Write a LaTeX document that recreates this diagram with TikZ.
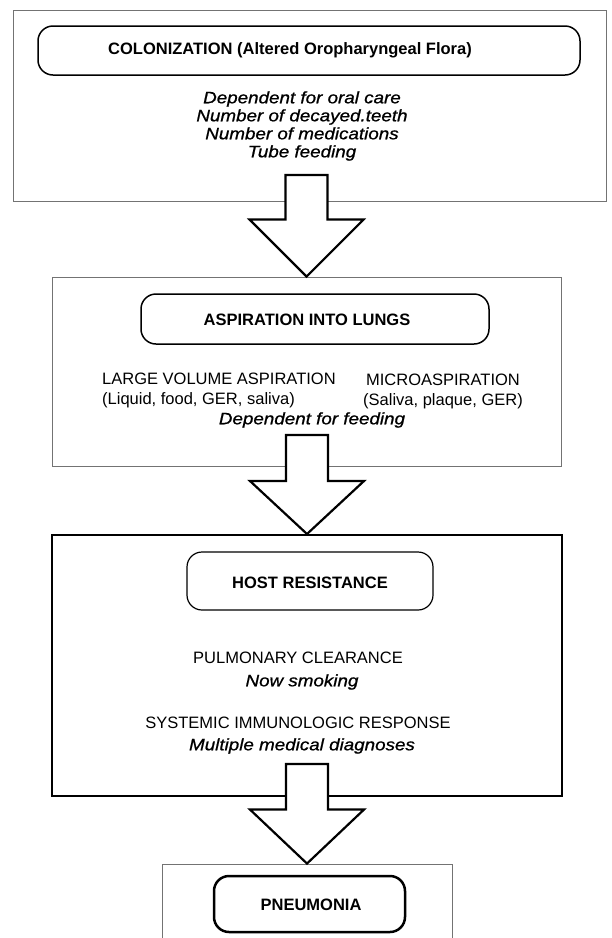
\documentclass[tikz,border=0pt]{standalone}
\usepackage{fontspec}
\setmainfont{Liberation Sans}
\newfontfamily\wideit[FakeStretch=1.14, FakeBold=0.9]{Liberation Sans}
\usetikzlibrary{calc}

\tikzset{
    frame/.style = {draw = black!55, line width = 0.9pt, minimum width = #1},
    heavyframe/.style = {draw, line width = 2pt, minimum width = #1},
    stage/.style = {draw, rounded corners = 15pt, line width = 1.5pt, minimum width = #1},
    title/.style = {font = \fontsize{16.5}{18}\selectfont\bfseries, inner sep = 0pt},
    route/.style = {font = \fontsize{16.5}{20}\selectfont, align = center, inner sep = 0pt},
    factor/.style = {font = \fontsize{16.5}{18}\selectfont\wideit\itshape, align = center, inner sep = 0pt},
    blockarrow/.style = {draw, line width = 2.2pt, fill = white, line join = miter,
        to path = {let \p1 = (\tikztostart), \p2 = (\tikztotarget) in
            (\x2-21pt, \y1) -- (\x2+21pt, \y1) -- (\x2+21pt, \y2+#1) -- (\x2+57pt, \y2+#1)
            -- (\x2, \y2) -- (\x2-57pt, \y2+#1) -- (\x2-21pt, \y2+#1) -- cycle}}
}

\begin{document}
\begin{tikzpicture}[x = 1pt, y = -1pt]
    \path[use as bounding box, fill = white] (0, 0) rectangle (612, 938);
    \clip (0, 0) rectangle (612, 938);

    % colonization
    \node[frame = 593pt, minimum height = 191pt] (colframe) at (309.5, 105.5) {};
    \node[stage = 542pt, minimum height = 49pt] (colstage) at (309, 50.5) {};
    \node[title] (coltitle) at (290, 50.5) {COLONIZATION (Altered Oropharyngeal Flora)};
    \node[factor] (colfactors) at (302, 126) {Dependent for oral care\\Number of decayed.teeth\\Number of medications\\Tube feeding};

    % aspiration
    \node[frame = 509pt, minimum height = 189pt] (aspframe) at (306.5, 371.5) {};
    \node[stage = 348pt, minimum height = 50pt] (aspstage) at (315, 319) {};
    \node[title] (asptitle) at (307, 320) {ASPIRATION INTO LUNGS};
    \node[route, align = left, anchor = west] (large) at (102, 390) {LARGE VOLUME ASPIRATION\\(Liquid, food, GER, saliva)};
    \node[route] (micro) at (443, 391) {MICROASPIRATION\\(Saliva, plaque, GER)};
    \node[factor] (feeding) at (312, 420) {Dependent for feeding};

    % host resistance
    \node[heavyframe = 510pt, minimum height = 261pt] (hostframe) at (307, 665.5) {};
    \node[stage = 246pt, minimum height = 58pt, line width = 1.2pt] (hoststage) at (310, 581) {};
    \node[title] (hosttitle) at (310, 583) {HOST RESISTANCE};
    \node[route] (clearance) at (298, 658) {PULMONARY CLEARANCE};
    \node[factor] (smoking) at (302, 682) {Now smoking};
    \node[route] (immune) at (298, 723) {SYSTEMIC IMMUNOLOGIC RESPONSE};
    \node[factor] (diagnoses) at (302, 746) {Multiple medical diagnoses};

    % pneumonia
    \node[frame = 290pt, minimum height = 96pt] (pneuframe) at (307, 912) {};
    \node[stage = 191pt, minimum height = 56pt, line width = 2.5pt] (pneustage) at (309.5, 904) {};
    \node[title] (pneutitle) at (311, 905) {PNEUMONIA};

    % arrows
    \coordinate (shaftA) at (304, 175);
    \coordinate (shaftB) at (306, 435);
    \coordinate (shaftC) at (308, 764);
    \draw[blockarrow = 57pt] (shaftA) to (aspframe.north);
    \draw[blockarrow = 53pt] (shaftB) to (hostframe.north);
    \draw[blockarrow = 54pt] (shaftC) to (pneuframe.north);
\end{tikzpicture}
\end{document}
